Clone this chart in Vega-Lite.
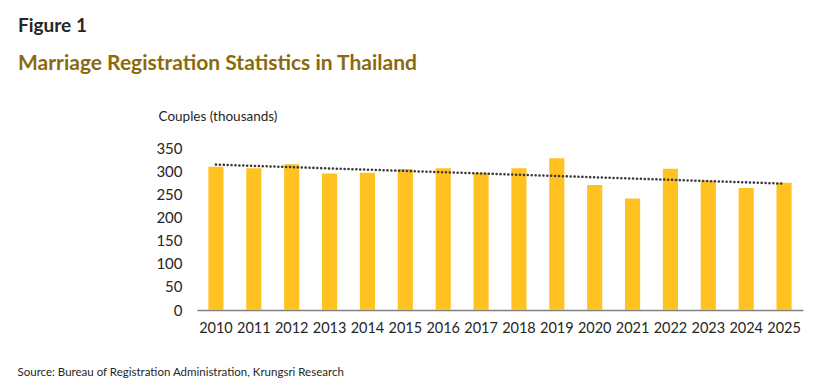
{
  "$schema": "https://vega.github.io/schema/vega-lite/v6.json",
  "autosize": {"type": "none"},
  "padding": {"left": 197, "top": 148, "right": 37, "bottom": 81},
  "width": 606,
  "height": 162,
  "background": "white",
  "config": {"view": {"stroke": null}, "font": "Lato"},
  "title": {
    "text": "Figure 1",
    "subtitle": "Marriage Registration Statistics in Thailand",
    "anchor": "start",
    "frame": "group",
    "dx": -179,
    "font": "Lato",
    "fontSize": 19,
    "fontWeight": "bold",
    "color": "#262626",
    "subtitleFont": "Lato",
    "subtitleFontSize": 21,
    "subtitleFontWeight": "bold",
    "subtitleColor": "#8B6A0E",
    "subtitlePadding": 17,
    "offset": 35
  },
  "data": {
    "values": [
      {"year": 2010, "couples": 309.5},
      {"year": 2011, "couples": 306},
      {"year": 2012, "couples": 315},
      {"year": 2013, "couples": 295},
      {"year": 2014, "couples": 296.5},
      {"year": 2015, "couples": 304.5},
      {"year": 2016, "couples": 306.5},
      {"year": 2017, "couples": 296.5},
      {"year": 2018, "couples": 306.5},
      {"year": 2019, "couples": 328},
      {"year": 2020, "couples": 270},
      {"year": 2021, "couples": 241},
      {"year": 2022, "couples": 305},
      {"year": 2023, "couples": 279},
      {"year": 2024, "couples": 263.5},
      {"year": 2025, "couples": 275}
    ]
  },
  "encoding": {
    "x": {
      "field": "year",
      "type": "ordinal",
      "scale": {"paddingInner": 0.6, "paddingOuter": 0.3},
      "axis": {
        "title": "Source: Bureau of Registration Administration, Krungsri Research",
        "titleFont": "Lato",
        "titleFontSize": 11.5,
        "titleFontWeight": "normal",
        "titleColor": "#262626",
        "titleAnchor": null,
        "titleAlign": "left",
        "titleBaseline": "alphabetic",
        "titleX": -180,
        "titleY": 65,
        "labelAngle": 0,
        "labelFont": "Lato",
        "labelFontSize": 14.5,
        "labelColor": "#262626",
        "labelPadding": 11,
        "ticks": false,
        "grid": false,
        "domainColor": "#808080",
        "domainWidth": 1.5
      }
    },
    "y": {
      "field": "couples",
      "type": "quantitative",
      "scale": {"domain": [0, 350], "nice": false},
      "axis": {
        "title": "Couples (thousands)",
        "titleAngle": 0,
        "titleAlign": "left",
        "titleAnchor": null,
        "titleBaseline": "alphabetic",
        "titleX": -39,
        "titleY": -28,
        "titleFont": "Lato",
        "titleFontSize": 13.5,
        "titleFontWeight": "normal",
        "titleColor": "#262626",
        "values": [0, 50, 100, 150, 200, 250, 300, 350],
        "labelFont": "Lato",
        "labelFontSize": 15,
        "labelColor": "#262626",
        "labelPadding": 15,
        "ticks": false,
        "domain": false,
        "grid": false
      }
    }
  },
  "layer": [
    {"mark": {"type": "bar", "color": "#FFC221"}},
    {
      "transform": [{"regression": "couples", "on": "year"}],
      "mark": {
        "type": "line",
        "color": "#3a3a3a",
        "strokeWidth": 2.5,
        "strokeDash": [0.1, 3.8],
        "strokeCap": "round"
      }
    }
  ]
}
